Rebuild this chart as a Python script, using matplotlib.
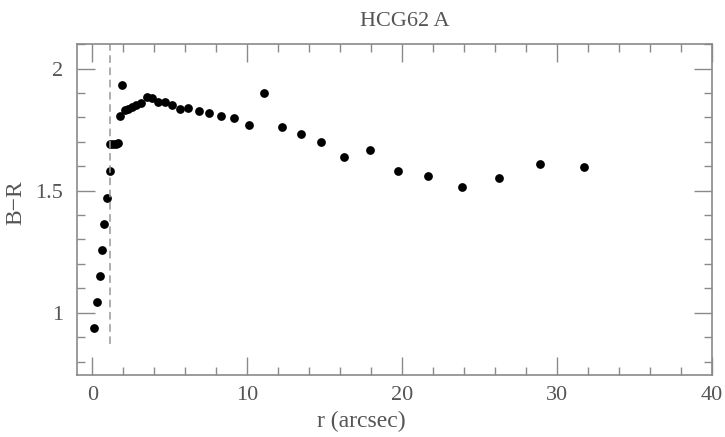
import matplotlib
matplotlib.use("Agg")
import matplotlib.pyplot as plt
from matplotlib.ticker import MultipleLocator

# Data
r_arcsec = [0.08, 0.27, 0.47, 0.60, 0.74, 0.94, 1.11, 1.13, 1.33, 1.52, 1.65,
            1.76, 1.93, 2.09, 2.32, 2.58, 2.84, 3.16, 3.55, 3.83, 4.26, 4.70,
            5.17, 5.69, 6.20, 6.87, 7.53, 8.32, 9.16, 10.09, 11.09, 12.23,
            13.46, 14.78, 16.27, 17.91, 19.72, 21.66, 23.85, 26.24, 28.87, 31.77]
b_minus_r = [0.937, 1.042, 1.149, 1.257, 1.364, 1.47, 1.58, 1.69, 1.69, 1.692, 1.695,
             1.807, 1.934, 1.829, 1.836, 1.843, 1.851, 1.859, 1.882, 1.878, 1.865, 1.865,
             1.851, 1.836, 1.839, 1.828, 1.817, 1.807, 1.796, 1.768, 1.898, 1.762,
             1.731, 1.698, 1.637, 1.665, 1.579, 1.559, 1.515, 1.552, 1.609, 1.597]
seeing_r = 1.15
title = "HCG62 A"

fig = plt.figure(figsize=(7.25, 4.37), dpi=100)
ax = fig.add_axes([0.106, 0.142, 0.876, 0.757])

fam = ["Liberation Serif", "DejaVu Serif"]
grey = "#555555"
spine_grey = "#8a8a8a"

ax.plot(r_arcsec, b_minus_r, "o", color="black", markersize=6.3, markeredgewidth=0)
ax.axvline(seeing_r, ymin=(0.87 - 0.745) / (2.1 - 0.745), ymax=1,
           color="#999999", linestyle=(0, (5, 3)), linewidth=1.1)

ax.set_xlim(-1, 40)
ax.set_ylim(0.745, 2.1)
ax.xaxis.set_major_locator(MultipleLocator(10))
ax.xaxis.set_minor_locator(MultipleLocator(2))
ax.yaxis.set_minor_locator(MultipleLocator(0.1))
ax.set_yticks([1, 1.5, 2])
ax.set_yticklabels(["1", "1.5", "2"])

ax.tick_params(which="both", direction="in", top=True, right=True,
               color=spine_grey, width=1)
ax.tick_params(which="major", length=13, labelsize=16, labelcolor=grey)
ax.tick_params(axis="x", which="major", pad=8)
ax.tick_params(axis="y", which="major", pad=10)
ax.tick_params(which="minor", length=6)
for lab in ax.get_xticklabels() + ax.get_yticklabels():
    lab.set_family(fam)
for s in ax.spines.values():
    s.set_color(spine_grey)
    s.set_linewidth(1.2)

ax.set_xlabel("r (arcsec)", fontsize=17, color=grey, family=fam)
ax.xaxis.label.set_verticalalignment("center")
ax.xaxis.set_label_coords((361 - 77) / (712 - 77), (375 - 422) / (375 - 44))
ax.set_ylabel("B\u2212R", fontsize=17, color=grey, family=fam)
ax.yaxis.set_label_coords((16 - 77) / (712 - 77), (375 - 203) / (375 - 44))
ax.yaxis.label.set_verticalalignment("center")
fig.text(405 / 725, 1 - 22 / 437, title, ha="center", va="center",
         fontsize=16, color=grey, family=fam)

fig.savefig("out.png", dpi=100)
